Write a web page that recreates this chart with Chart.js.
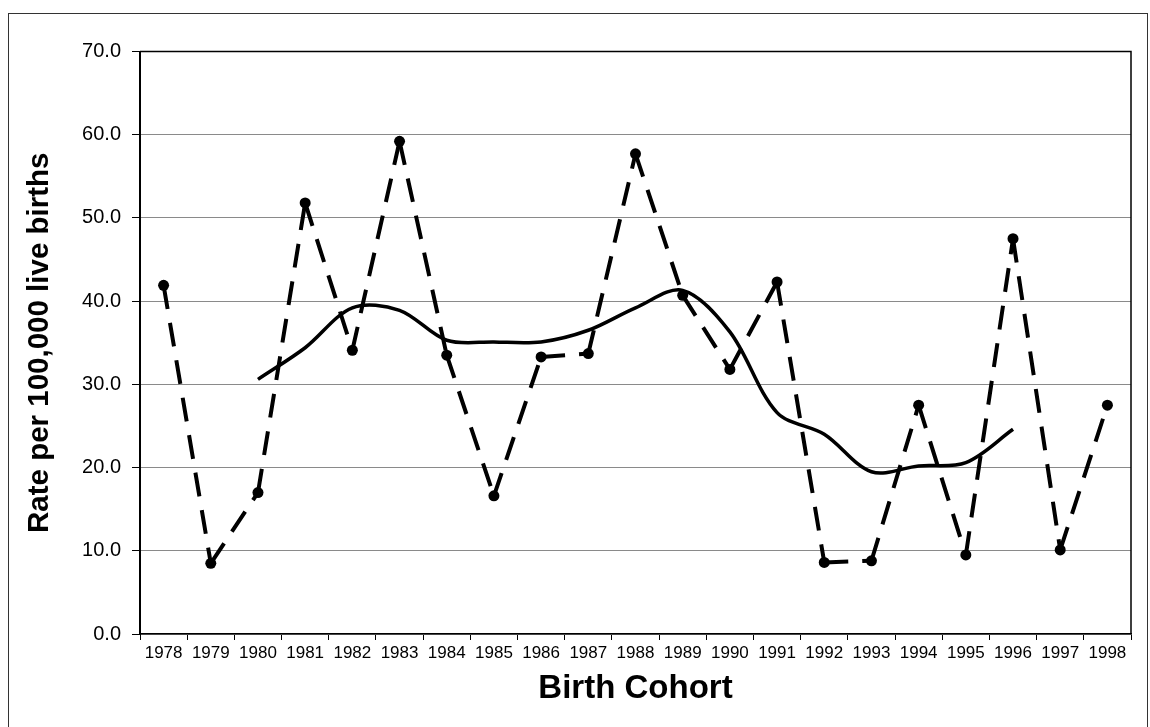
<!DOCTYPE html>
<html>
<head>
<meta charset="utf-8">
<script src="https://cdn.jsdelivr.net/npm/chart.js@4/dist/chart.umd.min.js"></script>
<style>
  html, body { margin: 0; padding: 0; background: #fff; }
  #wrap { position: relative; width: 1150px; height: 727px; }
  #frame { position: absolute; left: 8px; top: 13px; width: 1140px; height: 716px; border: 1.5px solid #333; box-sizing: border-box; pointer-events: none; }
  canvas { position: absolute; left: 0; top: 0; }
</style>
</head>
<body>
<div id="wrap">
  <canvas id="c" width="1150" height="727"></canvas>
  <div id="frame"></div>
</div>
<script>
// Categories (birth cohorts)
const cohorts = ['1978','1979','1980','1981','1982','1983','1984','1985','1986','1987','1988','1989','1990','1991','1992','1993','1994','1995','1996','1997','1998'];

// Annual rate per 100,000 live births (dashed line with markers)
const annualRates = [41.9, 8.5, 17.0, 51.8, 34.1, 59.2, 33.5, 16.6, 33.3, 33.7, 57.7, 40.7, 31.8, 42.3, 8.6, 8.8, 27.5, 9.5, 47.5, 10.1, 27.5];

// Smoothed trend line (solid)
const trendRates = [null, null, 30.6, 34.4, 39.2, 38.9, 35.3, 35.1, 35.1, 36.5, 39.2, 41.3, 36.3, 26.6, 24.0, 19.5, 20.2, 20.6, 24.6, null, null];

// Y tick settings
const yMin = 0, yMax = 70, yStep = 10;

const FONT = "'Liberation Sans', Arial, sans-serif";

const frameBorder = {
  id: 'frameBorder',
  beforeDatasetsDraw(chart) {
    const {ctx, chartArea: a} = chart;
    ctx.save();
    ctx.strokeStyle = '#000';
    ctx.lineWidth = 1.5;
    ctx.beginPath();
    ctx.moveTo(a.left, a.top);
    ctx.lineTo(a.right, a.top);
    ctx.lineTo(a.right, a.bottom);
    ctx.stroke();
    ctx.restore();
  }
};

new Chart(document.getElementById('c'), {
  type: 'line',
  data: {
    labels: cohorts,
    datasets: [
      {
        label: 'Annual rate',
        data: annualRates,
        borderColor: '#000',
        backgroundColor: '#000',
        borderWidth: 4,
        borderDash: [24, 14],
        borderCapStyle: 'butt',
        tension: 0,
        pointRadius: 5.5,
        pointBackgroundColor: '#000',
        pointBorderColor: '#000',
        pointBorderWidth: 0,
        fill: false,
        // restart the dash pattern at every point, like the original
        segment: { borderDashOffset: (ctx) => (ctx.p0DataIndex % 2 ? 0.0001 : 0) }
      },
      {
        label: 'Trend',
        data: trendRates,
        borderColor: '#000',
        borderWidth: 3.5,
        tension: 0.33,
        pointRadius: 0,
        spanGaps: false,
        fill: false
      }
    ]
  },
  options: {
    responsive: false,
    animation: false,
    devicePixelRatio: 1,
    layout: { padding: { left: 0, right: 19, top: 51.5, bottom: 0 } },
    plugins: { legend: { display: false }, tooltip: { enabled: false } },
    scales: {
      x: {
        type: 'category',
        offset: true,
        afterFit(scale) { scale.height = 93; },
        grid: {
          offset: true,
          drawOnChartArea: false,
          drawTicks: true,
          tickLength: 6,
          color: '#000',
          tickColor: '#000'
        },
        border: { display: true, color: '#000', width: 1.5 },
        ticks: {
          color: '#000',
          font: { family: FONT, size: 17 },
          padding: 3,
          maxRotation: 0,
          autoSkip: false
        },
        title: {
          display: true,
          text: 'Birth Cohort',
          color: '#000',
          font: { family: FONT, size: 33, weight: 'bold' },
          padding: { top: 0, bottom: 18 }
        }
      },
      y: {
        min: yMin,
        max: yMax,
        afterFit(scale) { scale.width = 140; },
        grid: {
          color: '#8a8a8a',
          lineWidth: 1,
          tickColor: '#000',
          tickLength: 8
        },
        border: { display: true, color: '#000', width: 2 },
        ticks: {
          stepSize: yStep,
          color: '#000',
          font: { family: FONT, size: 20 },
          padding: 11,
          callback: (v) => Number(v).toFixed(1)
        },
        title: {
          display: true,
          text: 'Rate per 100,000 live births',
          color: '#000',
          font: { family: FONT, size: 29.5, weight: 'bold' },
          padding: { top: 22, bottom: 0 }
        }
      }
    }
  },
  plugins: [frameBorder]
});
</script>
</body>
</html>
